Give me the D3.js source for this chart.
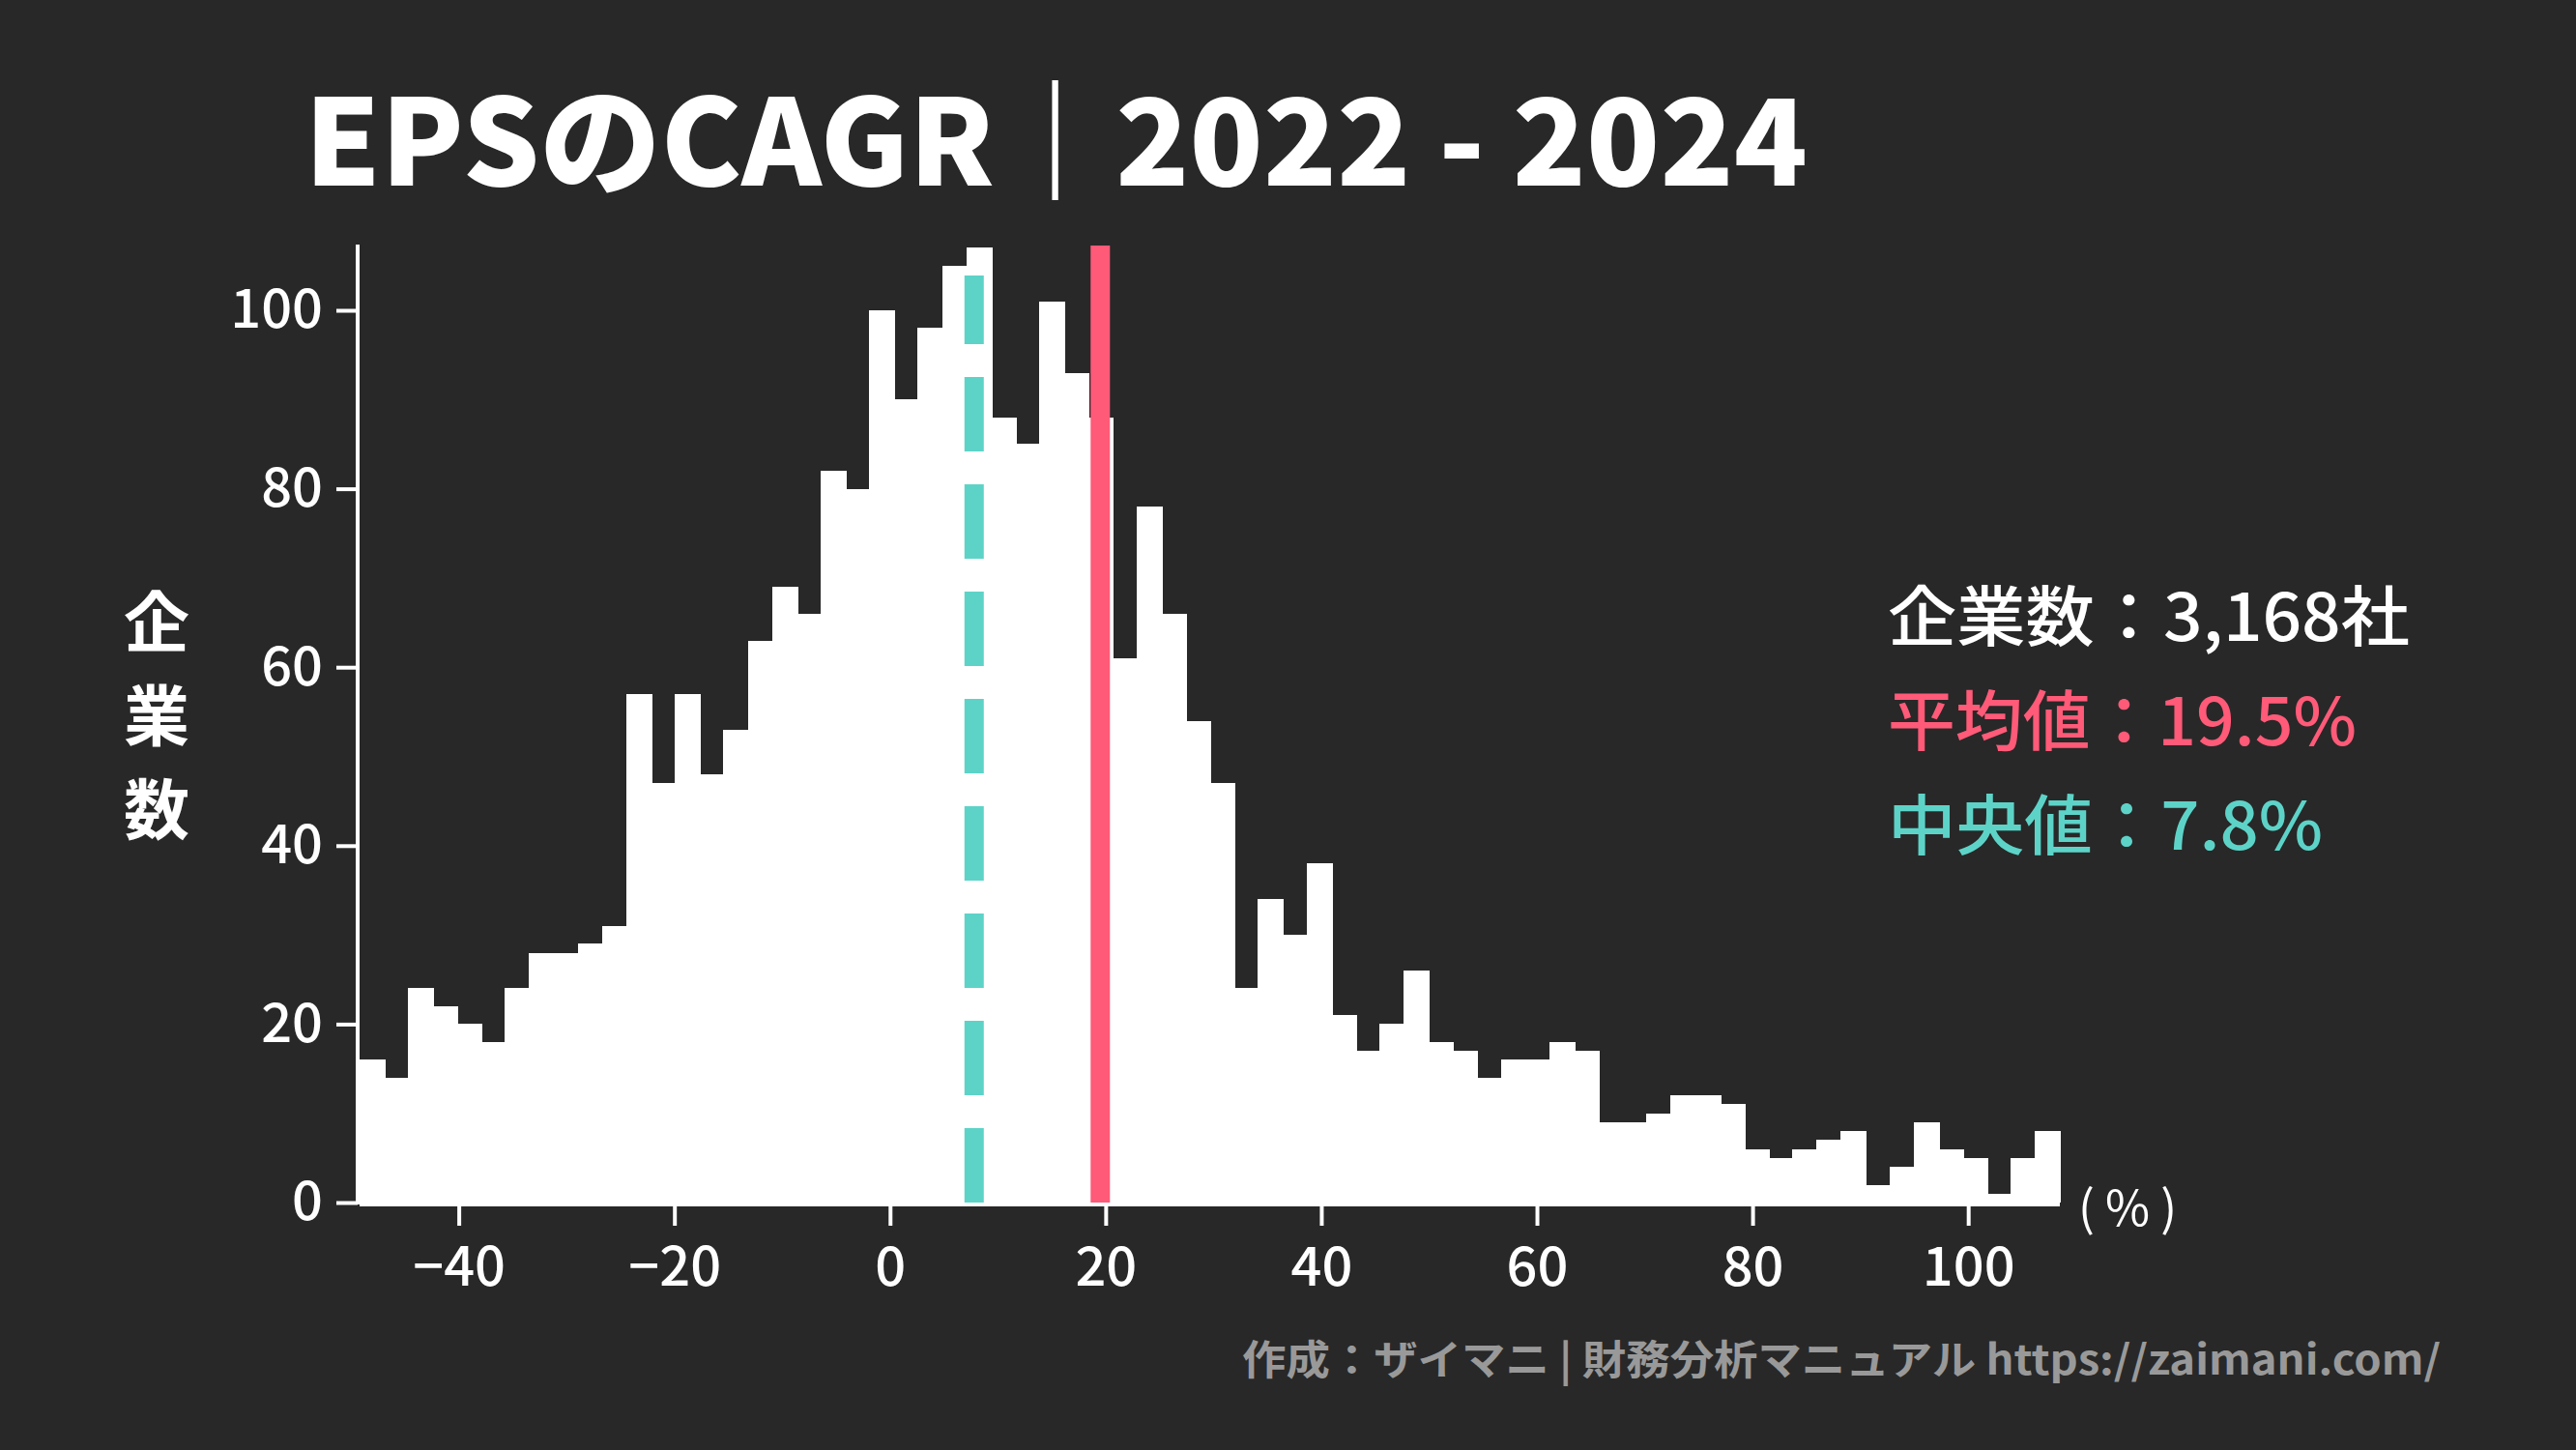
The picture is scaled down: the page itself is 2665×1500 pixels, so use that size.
<!DOCTYPE html>
<html><head><meta charset="utf-8">
<script src="https://cdn.jsdelivr.net/npm/d3@7"></script>
<style>body{margin:0;background:#282828}svg{display:block}</style>
</head><body>
<script>
const binStart = -49.2, binEnd = 108.5;
const counts = [16,14,24,22,20,18,24,28,28,29,31,57,47,57,48,53,63,69,66,82,80,100,90,98,105,107,88,85,101,93,88,61,78,66,54,47,24,34,30,38,21,17,20,26,18,17,14,16,16,18,17,9,9,10,12,12,11,6,5,6,7,8,2,4,9,6,5,1,5,8];
const xTicks = [-40,-20,0,20,40,60,80,100];
const yTicks = [0,20,40,60,80,100];
const meanVal = 19.5, medianVal = 7.8;
const infoLines = [
  {label:"企業数", value:"3,168社", color:"#ffffff"},
  {label:"平均値", value:"19.5%", color:"#FF5A78"},
  {label:"中央値", value:"7.8%", color:"#5DD3C8"}
];

const W=2665,H=1500;
const svg=d3.select("body").append("svg").attr("width",W).attr("height",H);
svg.append("rect").attr("width",W).attr("height",H).attr("fill","#282828");
const font="'Noto Sans CJK JP','Noto Sans',sans-serif";
const x=d3.scaleLinear().domain([binStart,binEnd]).range([372,2131]);
const y=d3.scaleLinear().domain([0,100]).range([1244,321]);
const bw=(binEnd-binStart)/counts.length;
const bins=counts.map((c,i)=>({x0:binStart+i*bw,x1:binStart+(i+1)*bw,c}));
svg.append("g").attr("shape-rendering","crispEdges").selectAll("rect").data(bins).join("rect")
  .attr("x",d=>Math.floor(x(d.x0))).attr("width",d=>Math.ceil(x(d.x1))-Math.floor(x(d.x0))+1)
  .attr("y",d=>y(d.c)).attr("height",d=>y(0)-y(d.c)).attr("fill","#fff");

svg.append("line").attr("x1",x(medianVal)).attr("x2",x(medianVal)).attr("y1",y(0)).attr("y2",285)
  .attr("stroke","#5DD3C8").attr("stroke-width",20).attr("stroke-dasharray","77,34");
svg.append("line").attr("x1",x(meanVal)).attr("x2",x(meanVal)).attr("y1",y(0)).attr("y2",254)
  .attr("stroke","#FF5A78").attr("stroke-width",20);

const xa=svg.append("g").attr("transform","translate(0,1246)")
  .call(d3.axisBottom(x).tickValues(xTicks).tickSize(22).tickPadding(14).tickFormat(d=>d<0?"−"+(-d):d));
const ya=svg.append("g").attr("transform","translate(370,0)")
  .call(d3.axisLeft(y).tickValues(yTicks).tickSize(22).tickPadding(14));
[xa,ya].forEach(a=>{a.selectAll("path,line").attr("stroke","#fff").attr("stroke-width",4);
  a.selectAll("text").attr("fill","#fff").attr("font-family",font).attr("font-size",56).attr("font-weight",500);});
xa.select("path").attr("d","M372,0H2131");
ya.select("path").attr("d","M0,253V1246");
xa.selectAll("text").attr("dy","0.85em");

svg.append("text").attr("x",315).attr("y",192).attr("fill","#fff").attr("font-family",font)
  .attr("font-weight",900).attr("font-size",124).attr("textLength",1555).attr("lengthAdjust","spacingAndGlyphs")
  .text("EPSのCAGR｜2022 - 2024");

["企","業","数"].forEach((c,i)=>svg.append("text").attr("x",162).attr("y",645+i*97).attr("dy","0.35em")
  .attr("text-anchor","middle").attr("fill","#fff").attr("font-family",font).attr("font-weight",700)
  .attr("font-size",68).text(c));

svg.append("text").attr("x",2150).attr("y",1250).attr("dy","0.35em").attr("fill","#fff")
  .attr("font-family",font).attr("font-size",50).text("( % )");

const infoLen=[540,485,450];
infoLines.forEach((d,i)=>svg.append("text").attr("x",1953).attr("y",663+i*108)
  .attr("fill",d.color).attr("font-family",font).attr("font-weight",500).attr("font-size",68)
  .attr("textLength",infoLen[i]).attr("lengthAdjust","spacingAndGlyphs")
  .text(d.label+"："+d.value));

svg.append("text").attr("x",2525).attr("y",1422).attr("text-anchor","end").attr("fill","#999")
  .attr("font-family",font).attr("font-weight",700).attr("font-size",42)
  .attr("textLength",1240).attr("lengthAdjust","spacingAndGlyphs")
  .text("作成：ザイマニ | 財務分析マニュアル https://zaimani.com/");
</script>
</body></html>
